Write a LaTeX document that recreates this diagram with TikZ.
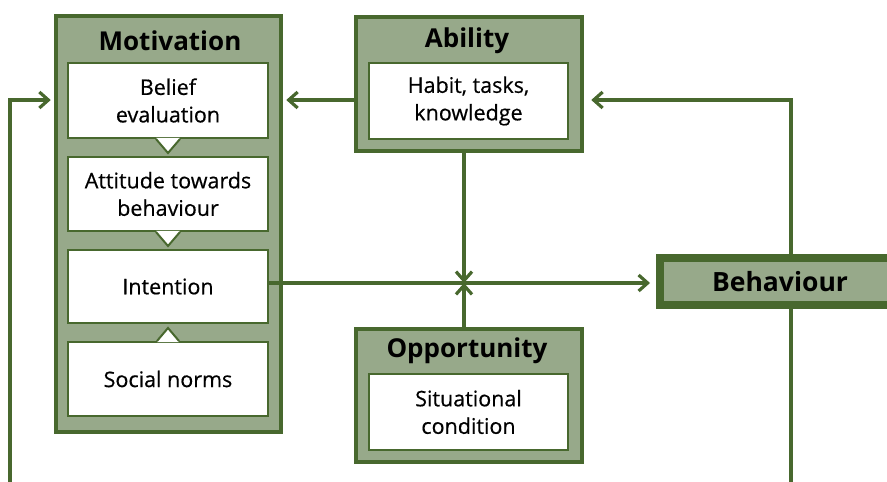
\documentclass[tikz,border=0pt]{standalone}
\usepackage{fontspec}
\setmainfont{Open Sans}
\newfontfamily\itemfont{Open Sans}[FakeBold=0.5]
\usetikzlibrary{arrows.meta,calc}

\definecolor{dgreen}{RGB}{72,104,46}
\definecolor{lgreen}{RGB}{151,169,138}

\tikzset{
  groupbox/.style={draw=dgreen, fill=lgreen, line width=4.5pt, inner sep=0pt},
  itembox/.style={draw=dgreen, fill=white, line width=2pt, inner sep=0pt,
    minimum width=200pt, align=center, font=\itemfont\fontsize{21.5}{27.5}\selectfont},
  grouptitle/.style={font=\fontsize{26}{30}\selectfont\bfseries, inner sep=0pt},
  behbox/.style={draw=dgreen, fill=lgreen, line width=8pt, inner sep=0pt},
  link/.style={draw=dgreen, line width=3.2pt, line join=miter,
    -{Straight Barb[length=9pt,width=16pt,line width=3.2pt]}},
  pointer/.style={draw=dgreen, line width=2pt, line join=miter},
}

% downward / upward pointer on an item box
\newcommand\tipdown[1]{%
  \fill[white] ($(#1.south)+(-12,-1.2)$) -- ($(#1.south)+(0,14)$) -- ($(#1.south)+(12,-1.2)$) -- cycle;
  \draw[pointer] ($(#1.south)+(-12,0)$) -- ($(#1.south)+(0,14)$) -- ($(#1.south)+(12,0)$);}
\newcommand\tipup[1]{%
  \fill[white] ($(#1.north)+(-11,1.2)$) -- ($(#1.north)+(0,-13)$) -- ($(#1.north)+(11,1.2)$) -- cycle;
  \draw[pointer] ($(#1.north)+(-11,0)$) -- ($(#1.north)+(0,-13)$) -- ($(#1.north)+(11,0)$);}

\begin{document}
\begin{tikzpicture}[x=1pt,y=-1pt]
\useasboundingbox (0,0) rectangle (887,482);
\clip (0,0) rectangle (887,482);

% Motivation group
\node[groupbox, minimum width=225pt, minimum height=416pt] (mot) at (168.5,224) {};
\node[grouptitle] (mottitle) at (170,41) {Motivation};
\node[itembox, minimum height=75pt] (bel) at (168,100.5) {Belief\\evaluation};
\node[itembox, minimum height=74pt] (att) at (168,194) {Attitude towards\\behaviour};
\node[itembox, minimum height=73pt] (int) at (168,286.5) {Intention};
\node[itembox, minimum height=74pt] (soc) at (168,379) {Social norms};
\tipdown{bel}
\tipdown{att}
\tipup{soc}

% Ability group
\node[groupbox, minimum width=226pt, minimum height=134pt] (abl) at (469,84) {};
\node[grouptitle] (abltitle) at (467,41) {Ability};
\node[itembox, minimum width=199pt, minimum height=76pt] (hab) at (468.5,101) {Habit, tasks,\\knowledge};

% Opportunity group
\node[groupbox, minimum width=226pt, minimum height=133pt] (opp) at (469,395.5) {};
\node[grouptitle] (opptitle) at (467,351) {Opportunity};
\node[itembox, minimum width=199pt, minimum height=76pt] (sit) at (468.5,412) {Situational\\condition};

% Behaviour
\node[behbox, minimum width=244pt, minimum height=47pt] (beh) at (782,281.5) {};
\node[grouptitle, font=\fontsize{26.5}{30}\selectfont\bfseries] (behtext) at (780,282) {Behaviour};

% connectors
\coordinate (meet) at (464,283);
\coordinate (topright) at (791,100);
\coordinate (botright) at (791,540);
\coordinate (botleft) at (10,540);
\coordinate (topleft) at (10,100);

\draw[link, shorten >=3pt] (abl.west |- 0,100) -- (mot.east |- 0,100);
\draw[link, shorten >=7pt] (beh.north -| topright) -- (topright) -- (abl.east |- topright);
\draw[link, shorten >=3pt] (beh.south -| botright) -- (botright) -- (botleft) -- (topleft) -- (mot.west |- topleft);
\draw[link, shorten >=6pt] (int.east |- meet) -- (beh.west |- meet);
\draw[link] (abl.south -| meet) -- (meet);
\draw[link] (opp.north -| meet) -- (meet);
\end{tikzpicture}
\end{document}
